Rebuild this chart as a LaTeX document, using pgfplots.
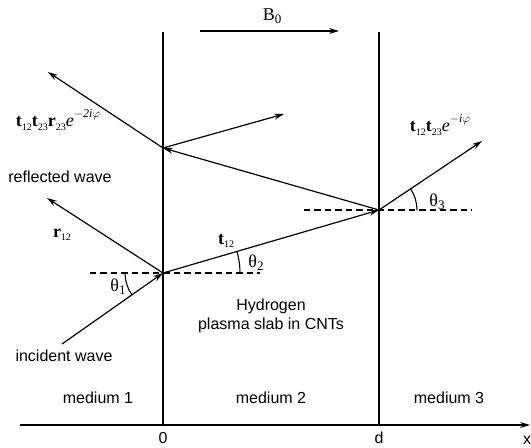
\documentclass[border=0pt]{standalone}
\usepackage{pgfplots}
\pgfplotsset{compat=1.18}
\usepackage{fontspec}
\setmainfont{Liberation Sans}
\newfontfamily\rmf{Liberation Serif}
\usetikzlibrary{arrows.meta}
\newcommand{\bt}[1]{{\fontsize{18bp}{18bp}\selectfont\rmf\bfseries #1}}
\newcommand{\sbs}[1]{\raisebox{-0.4ex}{\fontsize{10bp}{10bp}\selectfont\rmf #1}}
\newcommand{\sps}[1]{\raisebox{1.1ex}{\fontsize{12bp}{12bp}\selectfont\rmf\itshape #1}}
\newcommand{\gl}[2]{{\fontsize{18bp}{18bp}\selectfont\rmf #1\raisebox{-0.4ex}{\fontsize{13bp}{13bp}\selectfont #2}}}
\begin{document}
\begin{tikzpicture}
  \begin{axis}[
      scale only axis,
      width=531bp, height=448bp,
      xmin=0, xmax=531, ymin=0, ymax=448,
      y dir=reverse,
      hide axis,
      clip=false,
    ]
    \path (axis cs:0,0) rectangle (axis cs:531,448);
    % x axis and interfaces
    \addplot [black, line width=1.2pt, -{Stealth[length=10pt,width=6pt]}] coordinates {(20,425)(530,425)};
    \addplot [black, line width=1.2pt] coordinates {(163,32)(163,425)};
    \addplot [black, line width=1.2pt] coordinates {(379,32)(379,425)};
    % B0
    \addplot [black, line width=1.2pt, -{Stealth[length=10pt,width=6pt]}] coordinates {(200,31)(339,31)};
    % dashed normals
    \addplot [black, line width=1.1pt, dash pattern=on 6.5pt off 4pt] coordinates {(90,273)(260,273)};
    \addplot [black, line width=1.1pt, dash pattern=on 6.5pt off 4pt] coordinates {(304,210)(472,210)};
    % rays
    \addplot [black, line width=1.2pt, -{Stealth[length=10pt,width=6pt]}] coordinates {(62,344)(163,273)};
    \addplot [black, line width=1.2pt, -{Stealth[length=10pt,width=6pt]}] coordinates {(163,273)(47,198)};
    \addplot [black, line width=1.2pt, -{Stealth[length=10pt,width=6pt]}] coordinates {(163,273)(379,210)};
    \addplot [black, line width=1.2pt, -{Stealth[length=10pt,width=6pt]}] coordinates {(379,210)(482,141)};
    \addplot [black, line width=1.2pt, -{Stealth[length=10pt,width=6pt]}] coordinates {(379,210)(163,148)};
    \addplot [black, line width=1.2pt, -{Stealth[length=10pt,width=6pt]}] coordinates {(163,148)(48,72)};
    \addplot [black, line width=1.2pt, -{Stealth[length=10pt,width=6pt]}] coordinates {(163,148)(284,114)};
    % angle arcs
    \draw [line width=1.1pt] (axis cs:163,273) ++(180:38bp) arc[start angle=180, end angle=215, radius=38bp];
    \draw [line width=1.1pt] (axis cs:163,273) ++(0:77bp) arc[start angle=0, end angle=16.3, radius=77bp];
    \draw [line width=1.1pt] (axis cs:379,210) ++(0:38bp) arc[start angle=0, end angle=33.8, radius=38bp];
    % labels
    \begin{scope}[every node/.style={font=\fontsize{16bp}{18bp}\selectfont, inner sep=0pt}]
      \node at (axis cs:272,16) {\gl{B}{0}};
      \node at (axis cs:58,120) {\bt{t}\sbs{12}\bt{t}\sbs{23}\bt{r}\sbs{23}{\fontsize{18bp}{18bp}\selectfont\rmf\itshape e}\sps{$-$2i$\varphi$}};
      \node at (axis cs:440,125) {\bt{t}\sbs{12}\bt{t}\sbs{23}{\fontsize{18bp}{18bp}\selectfont\rmf\itshape e}\sps{$-$i$\varphi$}};
      \node at (axis cs:60,177) {reflected wave};
      \node at (axis cs:62,235) {\bt{r}\sbs{12}};
      \node at (axis cs:226,241) {\bt{t}\sbs{12}};
      \node at (axis cs:118,287) {\gl{θ}{1}};
      \node at (axis cs:256,263) {\gl{θ}{2}};
      \node at (axis cs:437,202) {\gl{θ}{3}};
      \node at (axis cs:64,356) {incident wave};
      \node at (axis cs:271,306) {Hydrogen};
      \node at (axis cs:271,325) {plasma slab in CNTs};
      \node at (axis cs:98,398) {medium 1};
      \node at (axis cs:271,398) {medium 2};
      \node at (axis cs:449,398) {medium 3};
      \node at (axis cs:163,438) {0};
      \node at (axis cs:379,438) {d};
      \node at (axis cs:527,440) {x};
    \end{scope}
  \end{axis}
\end{tikzpicture}
\end{document}
